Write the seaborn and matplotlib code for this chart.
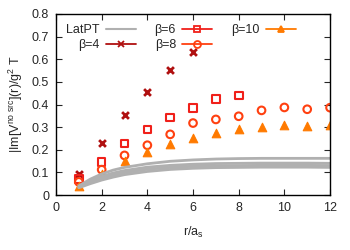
import pandas as pd
import numpy as np
import matplotlib
matplotlib.use("Agg")
import matplotlib.pyplot as plt
import seaborn as sns
from matplotlib.lines import Line2D
from matplotlib.ticker import FuncFormatter

# data
r_pt = [1, 1.5, 2, 2.5, 3, 4, 5, 6, 7, 8, 9, 10, 11, 12]
latpt_a = [0.040, 0.070, 0.093, 0.110, 0.122, 0.138, 0.149, 0.155, 0.159, 0.161, 0.162, 0.162, 0.162, 0.162]
latpt_b = [0.037, 0.062, 0.082, 0.097, 0.108, 0.123, 0.131, 0.136, 0.139, 0.140, 0.141, 0.141, 0.141, 0.140]
latpt_c = [0.034, 0.056, 0.074, 0.088, 0.099, 0.114, 0.122, 0.127, 0.129, 0.130, 0.131, 0.131, 0.131, 0.130]
latpt_d = [0.032, 0.050, 0.066, 0.079, 0.090, 0.104, 0.113, 0.118, 0.121, 0.122, 0.123, 0.123, 0.123, 0.122]

r_b4 = [1, 2, 3, 4, 5, 6]
v_b4 = [0.093, 0.228, 0.354, 0.456, 0.553, 0.633]
r_b6 = [1, 2, 3, 4, 5, 6, 7, 8]
v_b6 = [0.072, 0.145, 0.228, 0.290, 0.343, 0.385, 0.424, 0.440]
r_b8 = [1, 2, 3, 4, 5, 6, 7, 8, 9, 10, 11, 12]
v_b8 = [0.058, 0.112, 0.175, 0.220, 0.268, 0.318, 0.334, 0.348, 0.374, 0.387, 0.379, 0.386]
r_b10 = [1, 2, 3, 4, 5, 6, 7, 8, 9, 10, 11, 12]
v_b10 = [0.040, 0.092, 0.150, 0.188, 0.225, 0.250, 0.276, 0.290, 0.302, 0.308, 0.305, 0.308]

series = [
    ("β=4", r_b4, v_b4, "#b01010", "x"),
    ("β=6", r_b6, v_b6, "#f0201a", "s"),
    ("β=8", r_b8, v_b8, "#ff4010", "o"),
    ("β=10", r_b10, v_b10, "#ff7a00", "^"),
]

sns.set_style("ticks")
plt.rcParams['font.family'] = ['Liberation Sans', 'DejaVu Sans']
plt.rcParams['mathtext.fontset'] = 'custom'
plt.rcParams['mathtext.rm'] = 'Liberation Sans'
plt.rcParams['mathtext.it'] = 'Liberation Sans'

fig = plt.figure(figsize=(3.5, 2.5), dpi=100)
ax = fig.add_axes([0.16, 0.22, 0.783, 0.724])

pt = pd.DataFrame({
    "r": r_pt * 4,
    "v": latpt_a + latpt_b + latpt_c + latpt_d,
    "curve": ["a"] * 14 + ["b"] * 14 + ["c"] * 14 + ["d"] * 14,
})
sns.lineplot(data=pt, x="r", y="v", units="curve", estimator=None,
             color="#b0b0b0", lw=2.0, ax=ax, legend=False)

handles = [Line2D([], [], color="#b0b0b0", lw=1.5)]
labels = ["LatPT"]
for name, xs, ys, col, mk in series:
    d = pd.DataFrame({"r": xs, "v": ys})
    if mk == "x":
        sns.scatterplot(data=d, x="r", y="v", marker="x", color=col, s=24,
                        linewidth=2.0, ax=ax, legend=False)
    elif mk == "^":
        sns.scatterplot(data=d, x="r", y="v", marker="^", color=col, s=38,
                        edgecolor=col, linewidth=0.8, ax=ax, legend=False)
    else:
        sns.scatterplot(data=d, x="r", y="v", marker=mk, facecolor="none", s=30,
                        edgecolor=col, linewidth=1.5, ax=ax, legend=False)
    handles.append(Line2D([], [], color=col, lw=1.3, marker=mk, ms=5,
                          mfc=(col if mk == "^" else "none"), mec=col, mew=1.3))
    labels.append(name)

ax.set_xlim(0, 12)
ax.set_ylim(0, 0.8)
ax.set_xticks(np.arange(0, 13, 2))
ax.set_yticks(np.arange(0, 0.81, 0.1))
ax.yaxis.set_major_formatter(FuncFormatter(lambda v, p: "0" if abs(v) < 1e-9 else f"{v:.1f}"))
ax.tick_params(direction="in", top=True, right=True, labelsize=9, length=4, width=0.8, pad=5)
for s in ax.spines.values():
    s.set_linewidth(1.0)
    s.set_color("black")

ax.set_xlabel("r/a$_s$", fontsize=9, labelpad=8)
ax.set_ylabel("|Im[V$^{no\\ src}$](r)/g$^2$ T", fontsize=9, labelpad=5)

ax.legend(handles, labels, ncol=3, loc="upper left", bbox_to_anchor=(0.0, 1.0),
          frameon=False, markerfirst=False, fontsize=9, handlelength=2.4,
          columnspacing=1.5, handletextpad=0.5, labelspacing=0.25, borderaxespad=0.4)

fig.savefig("out.png", dpi=100)
